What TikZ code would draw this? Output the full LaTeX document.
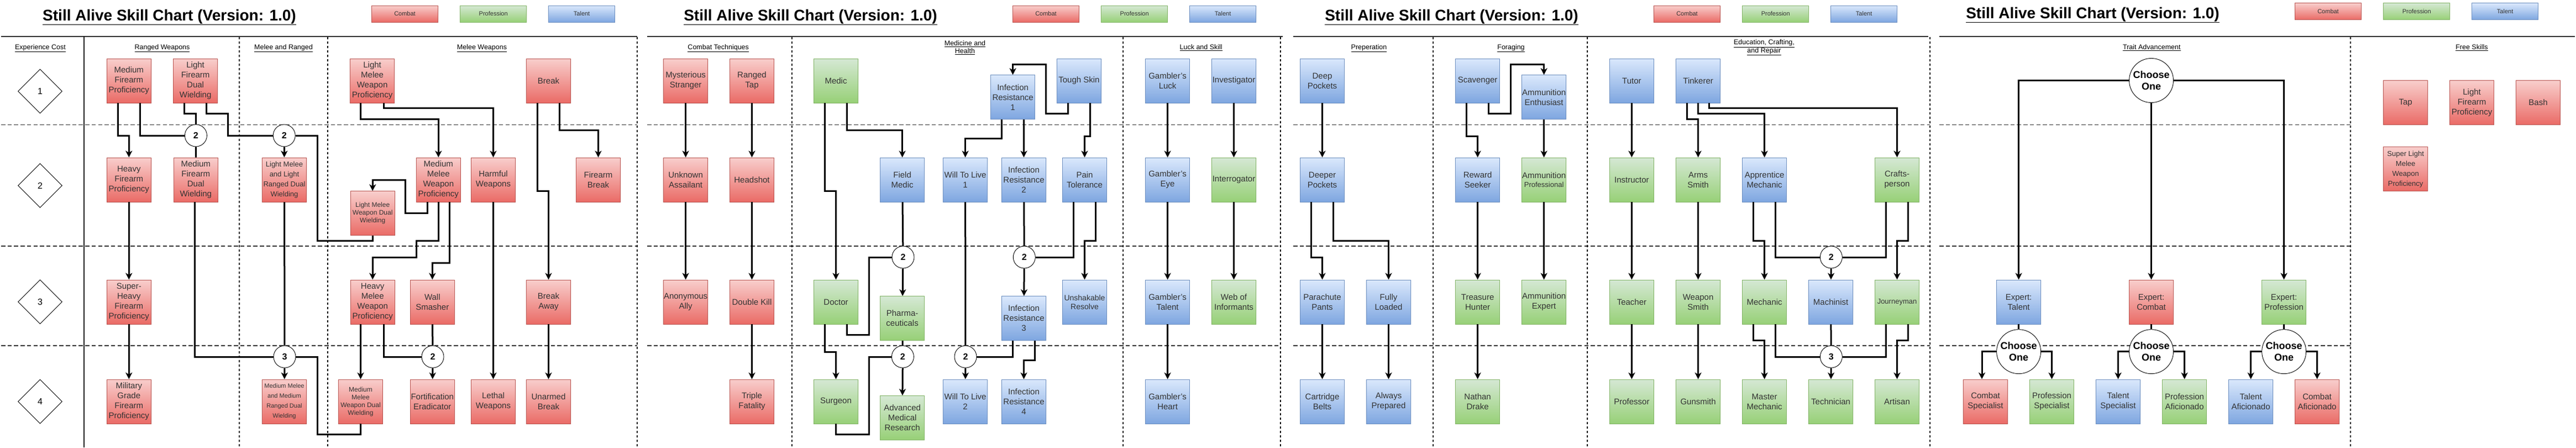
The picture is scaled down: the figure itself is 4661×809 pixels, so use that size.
\documentclass[tikz,border=0pt]{standalone}
\usepackage{fontspec}
\setmainfont{Liberation Sans}
\usetikzlibrary{arrows.meta,shapes.geometric}
\definecolor{redT}{HTML}{F8CECC}\definecolor{redB}{HTML}{EA6B66}\definecolor{redS}{HTML}{B85450}
\definecolor{grnT}{HTML}{D5E8D4}\definecolor{grnB}{HTML}{97D077}\definecolor{grnS}{HTML}{82B366}
\definecolor{bluT}{HTML}{DAE8FC}\definecolor{bluB}{HTML}{7EA6E0}\definecolor{bluS}{HTML}{6C8EBF}
\definecolor{fgtext}{HTML}{333333}
\definecolor{frame}{HTML}{333333}
\tikzset{
 sbox/.style={rectangle, minimum width=80pt, minimum height=80pt, inner sep=0pt, align=center, text=fgtext, line width=0.9pt, font=\fontsize{15}{18}\selectfont},
 rbox/.style={sbox, draw=redS, top color=redT, bottom color=redB},
 gbox/.style={sbox, draw=grnS, top color=grnT, bottom color=grnB},
 bbox/.style={sbox, draw=bluS, top color=bluT, bottom color=bluB},
 fa/.style={font=\fontsize{11}{18}\selectfont},
 fb/.style={font=\fontsize{12}{14}\selectfont},
 fc/.style={font=\fontsize{13}{18}\selectfont},
 fd/.style={font=\fontsize{14}{16}\selectfont},
 legend/.style={minimum width=120pt, minimum height=30pt, font=\fontsize{11}{13}\selectfont},
 numc/.style={circle, draw, fill=white, line width=0.9pt, minimum size=40pt, inner sep=0pt, font=\bfseries\fontsize{16}{18}\selectfont},
 choose/.style={circle, draw, fill=white, line width=0.9pt, minimum size=80pt, inner sep=0pt, align=center, font=\bfseries\fontsize{18}{21.5}\selectfont},
 dia/.style={diamond, draw, line width=0.9pt, minimum width=80pt, minimum height=80pt, inner sep=0pt, font=\fontsize{16}{18}\selectfont},
 hdr/.style={anchor=base, inner sep=0pt, font=\fontsize{12.5}{14.5}\selectfont, align=center},
 hdrtwo/.style={inner sep=0pt, font=\fontsize{12.5}{14.5}\selectfont, align=center},
 ttl/.style={anchor=base, inner sep=0pt, font=\bfseries\fontsize{28}{32}\selectfont},
 conn/.style={line width=3pt, draw=black},
 arr/.style={conn, -{Stealth[length=12pt,width=12pt,inset=3.5pt]}},
 topline/.style={line width=2pt, draw=frame},
 dashline/.style={line width=1.5pt, draw=frame, dash pattern=on 7.5pt off 4.2pt},
 dotline/.style={line width=2pt, draw=black, dash pattern=on 4pt off 4pt},
}
\begin{document}
\begin{tikzpicture}[x=1pt,y=-1pt]
\fill[white] (0,0) rectangle (4661,809);
\useasboundingbox (0,0) rectangle (4661,809);

% ---------- frames ----------
\foreach \a/\b in {2/1153, 1171/2317, 2340/3492.4, 3509/4252.7}{
  \foreach \yy in {225.5,445,625}{\draw[dashline] (\a,\yy) -- (\b,\yy);}
}
\draw[topline] (2,65.5) -- (1153,65.5);
\draw[topline] (1171,65.5) -- (2320.6,65.5);
\draw[topline] (2340,65.5) -- (3489,65.5);
\draw[topline] (3508.7,65.5) -- (4659,65.5);
\draw[line width=2pt] (152,65.5) -- (152,809);
\foreach \xx in {432.5,592.6,1153,1432.5,2032.4,2316.7,2592.5,2872.2,3492.4,4252.7}{
  \draw[dotline] (\xx,66.5) -- (\xx,809);
}

% ---------- titles and legends ----------
\foreach \o/\ty/\ly [count=\i] in {0/37/25, 1160/37/25, 2320/37/25, 3480/33/20.6}{
  \node[ttl] (t\i) at (306.5+\o,\ty) {\underline{Still Alive Skill Chart (Version: 1.0)}};
  \node[rbox,legend] (lc\i) at (732.5+\o,\ly) {Combat};
  \node[gbox,legend] (lp\i) at (892.7+\o,\ly) {Profession};
  \node[bbox,legend] (lt\i) at (1052.6+\o,\ly) {Talent};
}

% ---------- headers ----------
\node[hdr] (h1) at (73,89.3) {\underline{Experience Cost}};
\node[hdr] (h2) at (293.5,89.3) {\underline{Ranged Weapons}};
\node[hdr] (h3) at (513,89.3) {\underline{Melee and Ranged}};
\node[hdr] (h4) at (872,89.3) {\underline{Melee Weapons}};
\node[hdr] (h5) at (1299.7,89.3) {\underline{Combat Techniques}};
\node[hdrtwo] (h6) at (1746,86) {\underline{Medicine and}\\\underline{Health}};
\node[hdr] (h7) at (2173.2,89.3) {\underline{Luck and Skill}};
\node[hdr] (h8) at (2477,89.3) {\underline{Preperation}};
\node[hdr] (h9) at (2734,89.3) {\underline{Foraging}};
\node[hdrtwo] (h10) at (3192,86) {\underline{Education, Crafting,}\\\underline{and Repair}};
\node[hdr] (h11) at (3893.3,89.3) {\underline{Trait Advancement}};
\node[hdr] (h12) at (4472.4,89.3) {\underline{Free Skills}};

% ---------- experience cost ----------
\node[dia] (x1) at (72.5,165) {1};
\node[dia] (x2) at (72.5,335.5) {2};
\node[dia] (x3) at (72.5,545.7) {3};
\node[dia] (x4) at (72.5,726) {4};

% ---------- panel 1 nodes ----------
\node[rbox] (mfp) at (233.3,146) {Medium\\Firearm\\Proficiency};
\node[rbox] (lfdw) at (353.6,146) {Light\\Firearm\\Dual\\Wielding};
\node[rbox] (hfp) at (233.3,325) {Heavy\\Firearm\\Proficiency};
\node[rbox] (mfdw) at (354.3,325) {Medium\\Firearm\\Dual\\Wielding};
\node[rbox,fc] (lmlr) at (514.5,325) {Light Melee\\and Light\\Ranged Dual\\Wielding};
\node[rbox] (shfp) at (233.3,546) {Super-\\Heavy\\Firearm\\Proficiency};
\node[rbox] (mgfp) at (233.3,726) {Military\\Grade\\Firearm\\Proficiency};
\node[rbox,fa] (mmmr) at (514.5,726) {Medium Melee\\and Medium\\Ranged Dual\\Wielding};
\node[rbox] (lmwp) at (673.6,146) {Light\\Melee\\Weapon\\Proficiency};
\node[rbox] (brk) at (992.5,146) {Break};
\node[rbox] (mmwp) at (793.3,325) {Medium\\Melee\\Weapon\\Proficiency};
\node[rbox] (hw) at (892.5,325) {Harmful\\Weapons};
\node[rbox] (fbk) at (1082.5,325) {Firearm\\Break};
\node[rbox,fb] (lmwdw) at (674.2,385.7) {Light Melee\\Weapon Dual\\Wielding};
\node[rbox] (hmwp) at (674.2,546) {Heavy\\Melee\\Weapon\\Proficiency};
\node[rbox] (ws) at (782.3,546) {Wall\\Smasher};
\node[rbox] (ba) at (992.5,546) {Break\\Away};
\node[rbox,fb] (mmwdw) at (652.5,726) {Medium\\Melee\\Weapon Dual\\Wielding};
\node[rbox] (fe) at (782.3,726) {Fortification\\Eradicator};
\node[rbox] (lw) at (892.5,726) {Lethal\\Weapons};
\node[rbox] (ub) at (992.5,726) {Unarmed\\Break};
\node[numc] (ca) at (354.4,245) {2};
\node[numc] (cb) at (514.2,245) {2};
\node[numc] (cc) at (515,645) {3};
\node[numc] (cd) at (783,645) {2};

% ---------- panel 2 nodes ----------
\node[rbox] (ms) at (1240.6,146) {Mysterious\\Stranger};
\node[rbox] (rt) at (1360.5,146) {Ranged\\Tap};
\node[rbox] (ua) at (1240.6,325) {Unknown\\Assailant};
\node[rbox] (hs) at (1360.5,325) {Headshot};
\node[rbox] (aa) at (1240.6,546) {Anonymous\\Ally};
\node[rbox] (dk) at (1360.5,546) {Double Kill};
\node[rbox] (tf) at (1360.5,726) {Triple\\Fatality};
\node[gbox] (medic) at (1512.5,146) {Medic};
\node[bbox] (fm) at (1632.6,325) {Field\\Medic};
\node[bbox] (wtla) at (1746.6,325) {Will To Live\\1};
\node[gbox] (doc) at (1512.5,546) {Doctor};
\node[gbox] (pharm) at (1632.6,575.6) {Pharma-\\ceuticals};
\node[gbox] (surg) at (1512.5,726) {Surgeon};
\node[gbox] (amr) at (1632.6,755.5) {Advanced\\Medical\\Research};
\node[bbox] (wtlb) at (1746.6,726) {Will To Live\\2};
\node[bbox] (ira) at (1832.6,175.7) {Infection\\Resistance\\1};
\node[bbox] (tsk) at (1952.4,146) {Tough Skin};
\node[bbox] (irb) at (1852.5,325) {Infection\\Resistance\\2};
\node[bbox] (pt) at (1962.5,325) {Pain\\Tolerance};
\node[bbox] (irc) at (1852.5,575.6) {Infection\\Resistance\\3};
\node[bbox,fd] (ur) at (1962.5,546) {Unshakable\\Resolve};
\node[bbox] (ird) at (1852.5,726) {Infection\\Resistance\\4};
\node[bbox] (gl) at (2112.6,146) {Gambler's\\Luck};
\node[bbox] (ge) at (2112.6,325) {Gambler's\\Eye};
\node[bbox] (gt) at (2112.6,546) {Gambler's\\Talent};
\node[bbox] (gh) at (2112.6,726) {Gambler's\\Heart};
\node[bbox] (inv) at (2232.5,146) {Investigator};
\node[gbox] (intr) at (2232.5,325) {Interrogator};
\node[gbox] (woi) at (2232.5,546) {Web of\\Informants};
\node[numc] (ce) at (1634,465) {2};
\node[numc] (cf) at (1633.4,645) {2};
\node[numc] (cg) at (1747,645) {2};
\node[numc] (ch) at (1853.3,465) {2};

% ---------- panel 3 nodes ----------
\node[bbox] (dp) at (2392.5,146) {Deep\\Pockets};
\node[bbox] (dpp) at (2392.5,325) {Deeper\\Pockets};
\node[bbox] (pp) at (2392.5,546) {Parachute\\Pants};
\node[bbox] (fl) at (2512.5,546) {Fully\\Loaded};
\node[bbox] (cbl) at (2392.5,726) {Cartridge\\Belts};
\node[bbox] (ap) at (2512.5,726) {Always\\Prepared};
\node[bbox] (scav) at (2673.6,146) {Scavenger};
\node[bbox] (ae) at (2793.6,175.7) {Ammunition\\Enthusiast};
\node[bbox] (rs) at (2673.6,325) {Reward\\Seeker};
\node[gbox,font=\fontsize{15}{16.5}\selectfont] (apro) at (2793.6,325) {Ammunition\\{\fontsize{13}{16.5}\selectfont Professional}};
\node[gbox] (th) at (2673.6,546) {Treasure\\Hunter};
\node[gbox] (aexp) at (2793.6,546) {Ammunition\\Expert};
\node[gbox] (nd) at (2673.6,726) {Nathan\\Drake};
\node[bbox] (tutor) at (2952.4,146) {Tutor};
\node[bbox] (tink) at (3072.6,146) {Tinkerer};
\node[gbox] (instr) at (2952.4,325) {Instructor};
\node[gbox] (arms) at (3072.6,325) {Arms\\Smith};
\node[bbox] (appm) at (3192.6,325) {Apprentice\\Mechanic};
\node[gbox] (craft) at (3432.5,325) {Crafts-\\person};
\node[gbox] (teach) at (2952.4,546) {Teacher};
\node[gbox] (wsm) at (3072.6,546) {Weapon\\Smith};
\node[gbox] (mech) at (3192.6,546) {Mechanic};
\node[bbox] (mach) at (3312.6,546) {Machinist};
\node[gbox,fc] (journ) at (3432.5,546) {Journeyman};
\node[gbox] (prof) at (2952.4,726) {Professor};
\node[gbox] (gun) at (3072.6,726) {Gunsmith};
\node[gbox] (mm) at (3192.6,726) {Master\\Mechanic};
\node[gbox] (tech) at (3312.6,726) {Technician};
\node[gbox] (art) at (3432.5,726) {Artisan};
\node[numc] (ci) at (3313.3,465) {2};
\node[numc] (cj) at (3313.3,645) {3};

% ---------- panel 4 nodes ----------
\node[choose] (coa) at (3892.5,145.5) {Choose\\One};
\node[bbox] (et) at (3652.6,546) {Expert:\\Talent};
\node[rbox] (ec) at (3892.5,546) {Expert:\\Combat};
\node[gbox] (ep) at (4132.5,546) {Expert:\\Profession};
\node[choose] (cob) at (3652.6,635.7) {Choose\\One};
\node[choose] (coc) at (3892.5,635.7) {Choose\\One};
\node[choose] (cod) at (4132.6,635.7) {Choose\\One};
\node[rbox] (cs) at (3592.5,726) {Combat\\Specialist};
\node[gbox] (ps) at (3712.5,726) {Profession\\Specialist};
\node[bbox] (tsp) at (3832.5,726) {Talent\\Specialist};
\node[gbox] (pa) at (3952.6,726) {Profession\\Aficionado};
\node[bbox] (ta) at (4072.6,726) {Talent\\Aficionado};
\node[rbox] (caf) at (4192.5,726) {Combat\\Aficionado};
\node[rbox] (tap) at (4352.6,185.5) {Tap};
\node[rbox] (lfp) at (4472.6,185.5) {Light\\Firearm\\Proficiency};
\node[rbox] (bash) at (4592.5,185.5) {Bash};
\node[rbox,fc] (slm) at (4352.6,305.7) {Super Light\\Melee\\Weapon\\Proficiency};

% ---------- panel 1 connectors ----------
\draw[arr] ([xshift=-20pt]mfp.south) -- ++(0,59) -| (hfp);
\draw[conn] ([xshift=20pt]mfp.south) |- (ca);
\draw[conn] ([xshift=-20pt]lfdw.south) -- ++(0,19) -| (ca);
\draw[conn] (ca) -- (mfdw);
\draw[conn] ([xshift=20pt]lfdw.south) -- ++(0,19) -| (412,245) -- (cb);
\draw[arr] (cb) -- (lmlr);
\draw[conn] (cb.east) -| (574,435) -| (lmwdw);
\draw[conn] ([xshift=-2pt]mfdw.south) |- (cc);
\draw[conn] (lmlr) -- (cc);
\draw[arr] (cc) -- (mmmr);
\draw[conn] (cc.east) -| (574,785) -| (mmwdw);
\draw[arr] ([xshift=-21pt]lmwp.south) -- ++(0,29) -| (mmwp);
\draw[arr] ([xshift=20.4pt]lmwp.south) -- ++(0,9) -| (hw);
\draw[arr] ([xshift=-20pt]brk.south) -- ++(0,159) -| (ba);
\draw[arr] ([xshift=20pt]brk.south) -- ++(0,49) -| (fbk);
\draw[arr] ([xshift=-20pt]mmwp.south) -- ++(0,20) -| (733,325.6) -| (lmwdw);
\draw[arr] (mmwp.south) -- ++(0,70) -| (753.4,465) -| (hmwp);
\draw[arr] ([xshift=20pt]mmwp.south) -- ++(0,110) -| (ws);
\draw[arr] (hw) -- (lw);
\draw[arr] (ba) -- (ub);
\draw[arr] ([xshift=-21.7pt]hmwp.south) -- (mmwdw.north);
\draw[conn] ([xshift=20pt]hmwp.south) |- (cd);
\draw[conn] (ws) -- (cd);
\draw[arr] (cd) -- (fe);
\draw[arr] (hfp) -- (shfp);
\draw[arr] (shfp) -- (mgfp);

% ---------- panel 2 connectors ----------
\draw[arr] (ms) -- (ua);
\draw[arr] (ua) -- (aa);
\draw[arr] (rt) -- (hs);
\draw[arr] (hs) -- (dk);
\draw[arr] (dk) -- (tf);
\draw[arr] ([xshift=-20pt]medic.south) -- ++(0,159) -| (doc);
\draw[arr] ([xshift=20pt]medic.south) -- ++(0,49) -| (fm);
\draw[conn] (fm) -- (ce);
\draw[arr] (ce) -- (pharm);
\draw[conn] ([xshift=20pt]doc.south) -- ++(0,19) -| (1572.5,465) -- (ce);
\draw[arr] ([xshift=-20pt]doc.south) -- ++(0,50) -| (surg);
\draw[conn] (pharm) -- (cf);
\draw[arr] (cf) -- (amr);
\draw[conn] (surg.south) -- ++(0,19) -| (1572.5,645) -- (cf);
\draw[conn] (wtla) -- (cg);
\draw[arr] (cg) -- (wtlb);
\draw[arr] ([xshift=-20pt]ira.south) -- ++(0,34) -| (wtla);
\draw[arr] ([xshift=20pt]ira.south) -- (irb.north);
\draw[arr] ([xshift=-20pt]tsk.south) -- ++(0,19) -| (1892.3,116) -| (ira);
\draw[arr] ([xshift=20pt]tsk.south) -- ++(0,59.6) -| (pt);
\draw[conn] (irb) -- (ch);
\draw[conn] ([xshift=-20pt]pt.south) |- (ch);
\draw[arr] ([xshift=20pt]pt.south) -- ++(0,70) -| (ur);
\draw[arr] (ch) -- (irc);
\draw[conn] ([xshift=-20pt]irc.south) |- (cg);
\draw[arr] ([xshift=20pt]irc.south) -- ++(0,35.4) -| (ird);
\draw[arr] (gl) -- (ge);
\draw[arr] (ge) -- (gt);
\draw[arr] (gt) -- (gh);
\draw[arr] (inv) -- (intr);
\draw[arr] (intr) -- (woi);

% ---------- panel 3 connectors ----------
\draw[arr] (dp) -- (dpp);
\draw[arr] ([xshift=-20pt]dpp.south) -- ++(0,100) -| (pp);
\draw[arr] ([xshift=20pt]dpp.south) -- ++(0,70) -| (fl);
\draw[arr] (pp) -- (cbl);
\draw[arr] (fl) -- (ap);
\draw[arr] ([xshift=-20pt]scav.south) -- ++(0,59.6) -| (rs);
\draw[arr] ([xshift=20pt]scav.south) -- ++(0,19) -| (2733.3,116) -| (ae);
\draw[arr] (ae) -- (apro);
\draw[arr] (rs) -- (th);
\draw[arr] (th) -- (nd);
\draw[arr] (apro) -- (aexp);
\draw[arr] (tutor) -- (instr);
\draw[arr] (instr) -- (teach);
\draw[arr] (teach) -- (prof);
\draw[arr] ([xshift=-20pt]tink.south) -- ++(0,29) -| (arms);
\draw[arr] (tink.south) -- ++(0,19) -| (appm);
\draw[arr] ([xshift=20pt]tink.south) -- ++(0,9) -| (craft);
\draw[arr] (arms) -- (wsm);
\draw[arr] (wsm) -- (gun);
\draw[arr] ([xshift=-20pt]appm.south) -- ++(0,70) -| (mech);
\draw[conn] ([xshift=20pt]appm.south) |- (ci);
\draw[conn] ([xshift=-20pt]craft.south) |- (ci);
\draw[arr] ([xshift=20pt]craft.south) -- ++(0,70) -| (journ);
\draw[arr] (ci) -- (mach);
\draw[arr] ([xshift=-20pt]mech.south) -- ++(0,29) -| (mm);
\draw[conn] ([xshift=20pt]mech.south) |- (cj);
\draw[conn] (mach) -- (cj);
\draw[conn] ([xshift=-20pt]journ.south) |- (cj);
\draw[arr] ([xshift=20pt]journ.south) -- ++(0,29) -| (art);
\draw[arr] (cj) -- (tech);

% ---------- panel 4 connectors ----------
\draw[arr] (coa.west) -| (et);
\draw[arr] (coa) -- (ec);
\draw[arr] (coa.east) -| (ep);
\draw[conn] (et) -- (cob);
\draw[conn] (ec) -- (coc);
\draw[conn] (ep) -- (cod);
\draw[arr] (cob.west) -| ([xshift=-6.5pt]cs.north);
\draw[arr] (cob.east) -| (ps);
\draw[arr] (coc.west) -| (tsp);
\draw[arr] (coc.east) -| (pa);
\draw[arr] (cod.west) -| (ta);
\draw[arr] (cod.east) -| (caf);
\end{tikzpicture}
\end{document}
